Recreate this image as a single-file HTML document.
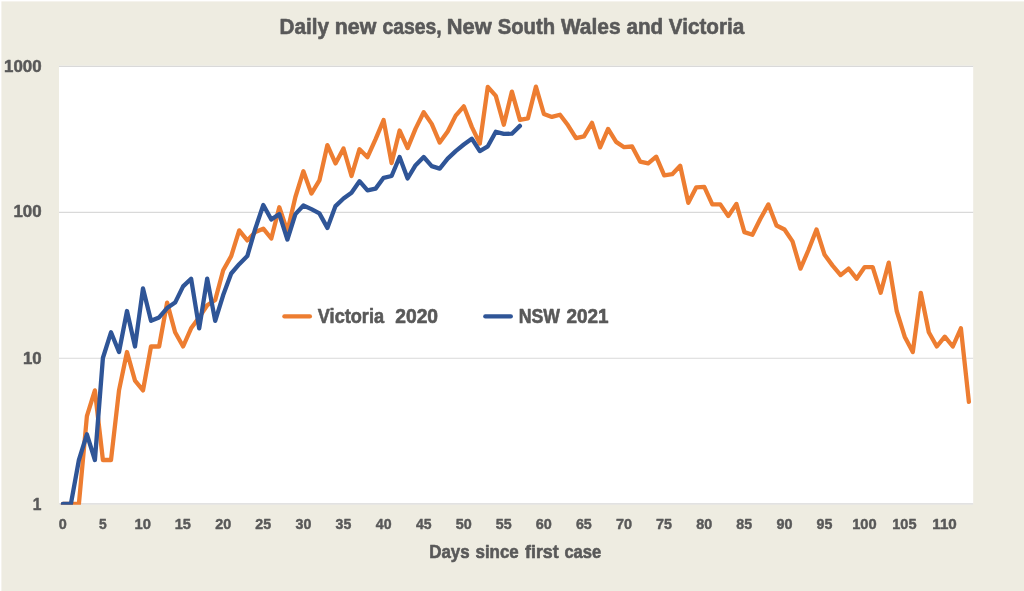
<!DOCTYPE html>
<html lang="en"><head><meta charset="utf-8"><title>Daily new cases, New South Wales and Victoria</title>
<style>
html,body{margin:0;padding:0;background:#fff;}
body{width:1024px;height:591px;overflow:hidden;}
svg{display:block;}
text{font-family:"Liberation Sans",sans-serif;font-weight:bold;fill:#595959;stroke:#595959;stroke-linejoin:round;}
</style></head><body>
<svg width="1024" height="591" viewBox="0 0 1024 591">
<defs><clipPath id="plot"><rect x="59" y="60" width="914.2" height="444.8"/></clipPath></defs>
<rect x="0" y="0" width="1024" height="591" fill="#fff"/>
<rect x="1.4" y="1.4" width="1023" height="590" fill="#EEECE1"/>
<rect x="59" y="65.7" width="914.2" height="438.7" fill="#fff"/>
<g stroke="#D9D9D9" stroke-width="1.2">
<line x1="59" y1="66.3" x2="973.2" y2="66.3"/>
<line x1="59" y1="212.45" x2="973.2" y2="212.45"/>
<line x1="59" y1="358.27" x2="973.2" y2="358.27"/>
<line x1="59" y1="503.9" x2="973.2" y2="503.9"/>
</g>
<g fill="none" stroke-width="4.3" stroke-linejoin="round" stroke-linecap="round" clip-path="url(#plot)">
<polyline stroke="#ED7D31" points="62.9,503.9 70.9,503.9 78.9,503.9 86.9,416.1 94.9,390.4 102.9,460.0 111.0,460.0 119.0,390.4 127.0,352.0 135.0,380.6 143.0,390.4 151.0,346.5 159.1,346.5 167.1,302.6 175.1,332.3 183.1,346.5 191.1,328.3 199.2,317.4 207.2,305.3 215.2,300.0 223.2,270.2 231.2,256.1 239.2,230.4 247.3,240.4 255.3,232.1 263.3,228.7 271.3,238.5 279.3,207.3 287.4,231.2 295.4,197.0 303.4,171.2 311.4,193.6 319.4,180.4 327.4,145.1 335.5,163.4 343.5,148.5 351.5,176.0 359.5,149.2 367.5,157.2 375.6,139.1 383.6,120.1 391.6,163.1 399.6,130.5 407.6,148.1 415.6,128.6 423.7,112.3 431.7,123.9 439.7,142.6 447.7,131.5 455.7,115.6 463.8,106.3 471.8,126.9 479.8,143.6 487.8,86.8 495.8,95.9 503.8,124.8 511.9,91.6 519.9,119.9 527.9,118.4 535.9,86.7 543.9,114.0 551.9,116.9 560.0,114.7 568.0,125.3 576.0,138.1 584.0,136.3 592.0,122.8 600.1,147.4 608.1,128.9 616.1,141.9 624.1,147.2 632.1,146.5 640.1,161.6 648.2,163.4 656.2,156.7 664.2,175.3 672.2,174.2 680.2,165.8 688.3,202.8 696.3,187.3 704.3,186.9 712.3,204.4 720.3,204.4 728.3,216.1 736.4,203.9 744.4,232.1 752.4,234.8 760.4,218.8 768.4,204.4 776.5,225.5 784.5,229.5 792.5,241.4 800.5,268.6 808.5,250.0 816.5,229.5 824.6,254.8 832.6,265.6 840.6,275.1 848.6,268.6 856.6,278.7 864.7,267.1 872.7,267.1 880.7,292.8 888.7,262.7 896.7,311.0 904.7,336.7 912.8,352.0 920.8,292.8 928.8,332.3 936.8,346.5 944.8,336.7 952.8,346.5 960.9,328.3 968.9,401.9"/>
<polyline stroke="#2F5597" points="62.9,503.9 70.9,503.9 78.9,460.0 86.9,434.3 94.9,460.0 102.9,358.0 111.0,332.3 119.0,352.0 127.0,311.0 135.0,346.5 143.0,288.4 151.0,320.8 159.1,317.4 167.1,308.1 175.1,302.6 183.1,286.4 191.1,278.7 199.2,328.3 207.2,278.7 215.2,320.8 223.2,295.1 231.2,273.5 239.2,264.2 247.3,256.1 255.3,228.7 263.3,205.0 271.3,219.5 279.3,214.1 287.4,239.5 295.4,214.1 303.4,205.5 311.4,209.1 319.4,213.4 327.4,227.9 335.5,206.1 343.5,198.5 351.5,192.7 359.5,181.2 367.5,190.4 375.6,188.6 383.6,177.8 391.6,176.0 399.6,157.0 407.6,178.5 415.6,165.2 423.7,157.0 431.7,166.1 439.7,168.6 447.7,158.6 455.7,151.1 463.8,144.5 471.8,138.7 479.8,151.1 487.8,146.3 495.8,131.7 503.8,133.9 511.9,133.7 519.9,125.9"/>
</g>

<g>
<text transform="translate(279.45,33.60) scale(0.9753,1)" font-size="21.24" stroke-width="0.6">Daily</text>
<text transform="translate(334.81,33.60) scale(1.0068,1)" font-size="21.24" stroke-width="0.6">new</text>
<text transform="translate(382.47,33.60) scale(0.9130,1)" font-size="21.24" stroke-width="0.6">cases,</text>
<text transform="translate(446.77,33.60) scale(1.0293,1)" font-size="21.24" stroke-width="0.6">New</text>
<text transform="translate(497.74,33.60) scale(0.9529,1)" font-size="21.24" stroke-width="0.6">South</text>
<text transform="translate(560.90,33.60) scale(0.9854,1)" font-size="21.24" stroke-width="0.6">Wales</text>
<text transform="translate(626.43,33.60) scale(0.9712,1)" font-size="21.24" stroke-width="0.6">and</text>
<text transform="translate(668.80,33.60) scale(0.9727,1)" font-size="21.24" stroke-width="0.6">Victoria</text>
</g>
<g>
<text transform="translate(4.04,71.55) scale(1.0008,1)" font-size="16.87" stroke-width="0.5">1000</text>
<text transform="translate(13.45,217.45) scale(0.9998,1)" font-size="16.87" stroke-width="0.5">100</text>
<text transform="translate(22.95,363.55) scale(0.9942,1)" font-size="16.87" stroke-width="0.5">10</text>
<text transform="translate(32.68,509.55) scale(0.9241,1)" font-size="16.87" stroke-width="0.5">1</text>
</g>
<g>
<text transform="translate(58.75,529.38) scale(0.9768,1)" font-size="14.76" stroke-width="0.45">0</text>
<text transform="translate(98.97,529.38) scale(0.9373,1)" font-size="14.76" stroke-width="0.45">5</text>
<text transform="translate(134.56,529.38) scale(1.0017,1)" font-size="14.76" stroke-width="0.45">10</text>
<text transform="translate(174.66,529.38) scale(0.9894,1)" font-size="14.76" stroke-width="0.45">15</text>
<text transform="translate(215.16,529.38) scale(0.9751,1)" font-size="14.76" stroke-width="0.45">20</text>
<text transform="translate(255.25,529.38) scale(0.9635,1)" font-size="14.76" stroke-width="0.45">25</text>
<text transform="translate(295.52,529.38) scale(0.9635,1)" font-size="14.76" stroke-width="0.45">30</text>
<text transform="translate(335.61,529.38) scale(0.9521,1)" font-size="14.76" stroke-width="0.45">35</text>
<text transform="translate(375.81,529.38) scale(0.9566,1)" font-size="14.76" stroke-width="0.45">40</text>
<text transform="translate(415.90,529.38) scale(0.9454,1)" font-size="14.76" stroke-width="0.45">45</text>
<text transform="translate(455.73,529.38) scale(0.9728,1)" font-size="14.76" stroke-width="0.45">50</text>
<text transform="translate(495.83,529.38) scale(0.9612,1)" font-size="14.76" stroke-width="0.45">55</text>
<text transform="translate(535.84,529.38) scale(0.9775,1)" font-size="14.76" stroke-width="0.45">60</text>
<text transform="translate(575.94,529.38) scale(0.9658,1)" font-size="14.76" stroke-width="0.45">65</text>
<text transform="translate(615.94,529.38) scale(0.9822,1)" font-size="14.76" stroke-width="0.45">70</text>
<text transform="translate(656.04,529.38) scale(0.9704,1)" font-size="14.76" stroke-width="0.45">75</text>
<text transform="translate(696.27,529.38) scale(0.9728,1)" font-size="14.76" stroke-width="0.45">80</text>
<text transform="translate(736.37,529.38) scale(0.9612,1)" font-size="14.76" stroke-width="0.45">85</text>
<text transform="translate(776.42,529.38) scale(0.9751,1)" font-size="14.76" stroke-width="0.45">90</text>
<text transform="translate(816.51,529.38) scale(0.9635,1)" font-size="14.76" stroke-width="0.45">95</text>
<text transform="translate(852.16,529.38) scale(0.9933,1)" font-size="14.76" stroke-width="0.45">100</text>
<text transform="translate(892.26,529.38) scale(0.9854,1)" font-size="14.76" stroke-width="0.45">105</text>
<text transform="translate(932.31,529.38) scale(1.0295,1)" font-size="14.76" stroke-width="0.45">110</text>
</g>
<g>
<text transform="translate(429.21,557.90) scale(0.8875,1)" font-size="19.05" stroke-width="0.6">Days</text>
<text transform="translate(475.46,557.90) scale(0.8903,1)" font-size="19.05" stroke-width="0.6">since</text>
<text transform="translate(525.04,557.90) scale(0.9352,1)" font-size="19.05" stroke-width="0.6">first</text>
<text transform="translate(564.39,557.90) scale(0.8714,1)" font-size="19.05" stroke-width="0.6">case</text>
</g>
<g stroke-width="4.3" stroke-linecap="round"><line x1="284.4" y1="316.4" x2="309.9" y2="316.4" stroke="#ED7D31"/><line x1="485.3" y1="316.4" x2="510.8" y2="316.4" stroke="#2F5597"/></g>
<g>
<text transform="translate(317.81,322.60) scale(0.9389,1)" font-size="19.35" stroke-width="0.6">Victoria</text>
<text transform="translate(395.28,322.60) scale(0.9941,1)" font-size="19.35" stroke-width="0.6">2020</text>
<text transform="translate(518.75,322.60) scale(0.9152,1)" font-size="19.35" stroke-width="0.6">NSW</text>
<text transform="translate(566.39,322.60) scale(0.9788,1)" font-size="19.35" stroke-width="0.6">2021</text>
</g>
</svg></body></html>
